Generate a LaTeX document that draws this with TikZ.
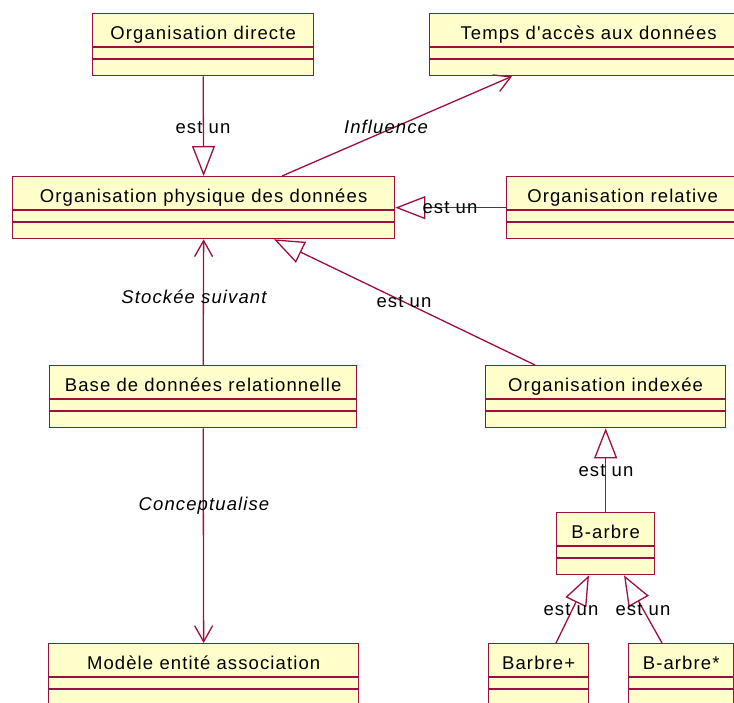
\documentclass[tikz,border=0pt]{standalone}
\usepackage{fontspec}
\setmainfont{Liberation Sans}[LetterSpace=6, Ligatures=TeXOff]
\usetikzlibrary{arrows.meta,calc}
\definecolor{umlline}{RGB}{155,15,65}
\definecolor{umlfill}{RGB}{255,255,204}
\newcommand{\compart}[1]{\draw[cline] ($(#1.north west)+(0,34)$) -- ($(#1.north east)+(0,34)$) ($(#1.north west)+(0,46)$) -- ($(#1.north east)+(0,46)$);}
\begin{document}
\begin{tikzpicture}[x=1pt,y=-1pt,
  cls/.style={draw=umlline, fill=umlfill, line width=1.3pt, inner sep=0pt,
    text height=26pt, text depth=36pt, font=\fontsize{18.5}{21}\selectfont, anchor=north west},
  cline/.style={draw=umlline, line width=1.3pt},
  gen/.style={draw=umlline, line width=1.3pt, -{Triangle[open,length=30pt,width=23pt]}},
  assoc/.style={draw=umlline, line width=1.3pt, -{Straight Barb[length=16pt,width=18pt]}},
  lbl/.style={font=\fontsize{18.5}{21}\selectfont, inner sep=0pt},
  ilbl/.style={font=\fontsize{18.5}{21}\selectfont\itshape, inner sep=0pt}]
\useasboundingbox (0,0) rectangle (734,702);
\fill[white] (0,0) rectangle (734,702);
\clip (0,0) rectangle (734,702);
% classes
\node[cls, minimum width=221pt] (od) at (92,13) {Organisation directe};
\node[cls, minimum width=318pt] (ta) at (429,13) {Temps d'accès aux données};
\node[cls, minimum width=382pt] (op) at (12,176) {Organisation physique des données};
\node[cls, minimum width=232pt] (or) at (506,176) {Organisation relative};
\node[cls, minimum width=307pt] (bd) at (49,365) {Base de données relationnelle};
\node[cls, minimum width=240pt] (oi) at (485,365) {Organisation indexée};
\node[cls, minimum width=98pt] (ba) at (556,512) {B-arbre};
\node[cls, minimum width=310pt] (me) at (48,643) {Modèle entité association};
\node[cls, minimum width=100pt] (bp) at (488,643) {Barbre+};
\node[cls, minimum width=105pt] (bs) at (628,643) {B-arbre*};
\foreach \c in {od,ta,op,or,bd,oi,ba,me,bp,bs}{\compart{\c}}
% connectors
\draw[gen] (od.south) -- (op.north);
\draw[assoc] ($(op.north west)+(270,0)$) -- ($(ta.south west)+(83,0)$);
\draw[gen] (or.west) -- (op.east);
\draw[assoc] (bd.north) -- (op.south);
\draw[gen] ($(oi.north west)+(50,0)$) -- ($(op.south west)+(262,0)$);
\draw[assoc] (bd.south) -- (me.north);
\draw[gen] (ba.north) -- (oi.south);
\draw[gen] ($(bp.north west)+(68,0)$) -- ($(ba.south west)+(33,0)$);
\draw[gen] ($(bs.north west)+(34,0)$) -- ($(ba.south west)+(68,0)$);
% labels
\node[lbl] (l1) at (203,128) {est un};
\node[ilbl] (l2) at (386,127) {Influence};
\node[lbl] (l3) at (450,208) {est un};
\node[ilbl] (l4) at (194,297) {Stockée suivant};
\node[lbl] (l5) at (404,302) {est un};
\node[ilbl] (l6) at (204,506) {Conceptualise};
\node[lbl] (l7) at (606,471) {est un};
\node[lbl] (l8) at (571,610) {est un};
\node[lbl] (l9) at (643,610) {est un};
\end{tikzpicture}
\end{document}
